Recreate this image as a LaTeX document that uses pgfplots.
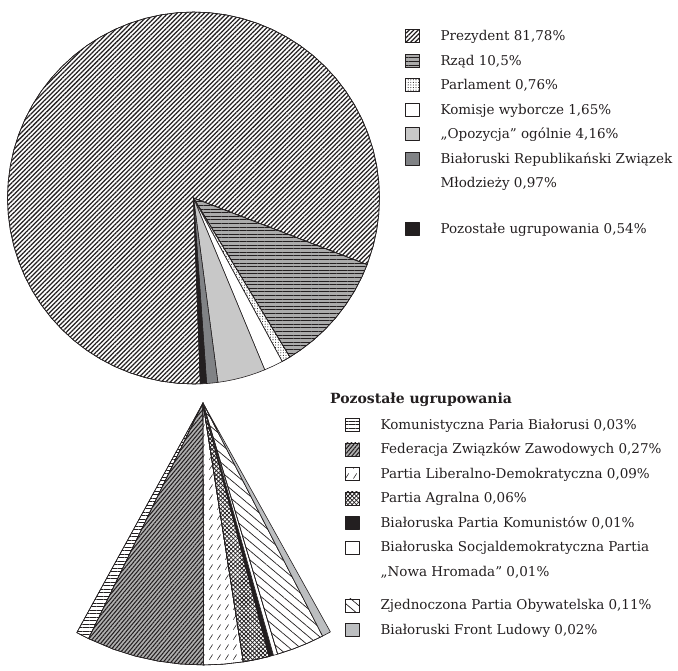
\documentclass[border=0pt]{standalone}
\usepackage{fontspec}
\setmainfont{DejaVu Serif}
\usepackage{pgfplots}
\pgfplotsset{compat=1.18}
\usetikzlibrary{patterns,patterns.meta}
\definecolor{ink}{HTML}{231F20}
\definecolor{opgray}{HTML}{C8C8C8}
\definecolor{midgray}{HTML}{808285}
\definecolor{fedgray}{HTML}{B0B0B0}
\definecolor{frontgray}{HTML}{BCBEC0}
\tikzdeclarepattern{
  name=dashesNE,
  type=uncolored,
  bounding box={(0pt,0pt) and (8pt,10pt)},
  tile size={(8pt,10pt)},
  code={\draw[line width=0.6pt] (1.5pt,1.5pt) -- (5pt,7pt);}
}
\pgfplotsset{
  slice/.style={draw=ink, line width=0.6pt, line join=round},
  boxlegend/.style={
    legend image code/.code={\draw[##1, draw=ink, line width=0.6pt] (0pt,-2pt) rectangle (14pt,11pt);},
  },
  legstyle/.style={legend style={draw=none, fill=none, inner sep=0pt, outer sep=0pt,
    row sep=7pt, column sep=0pt, font=\fontsize{13.5}{16}\selectfont, text=ink,
    /tikz/every odd column/.append style={column sep=19pt},
    cells={anchor=base west, inner sep=0pt, text height=12pt, text depth=4pt}}},
}
\begin{document}
\begin{tikzpicture}
\path (0pt,0pt) rectangle (678pt,670pt);
% ---------------- main pie ----------------
\begin{axis}[at={(0pt,0pt)}, anchor=south west, width=678pt, height=670pt,
  scale only axis, xmin=-193.5, xmax=484.5, ymin=-472, ymax=198,
  hide axis, clip=false, data cs=polar, boxlegend, legstyle,
  legend style={at={(0.5973,0.9604)}, anchor=north west}]
% Prezydent 81,78
\addplot[slice, fill=white, postaction={pattern={Lines[angle=45,distance=3.2pt,line width=1.25pt]}, pattern color=ink}]
 coordinates {(0,0) (-21,186) (-15,186) (-10,186) (-5,186) (0,186) (5,186) (10,186) (15,186) (20,186)
 (25,186) (30,186) (35,186) (40,186) (45,186) (50,186) (55,186) (60,186) (65,186) (70,186)
 (75,186) (80,186) (85,186) (90,186) (95,186) (100,186) (105,186) (110,186) (115,186) (120,186)
 (125,186) (130,186) (135,186) (140,186) (145,186) (150,186) (155,186) (160,186) (165,186) (170,186)
 (175,186) (180,186) (185,186) (190,186) (195,186) (200,186) (205,186) (210,186) (215,186) (220,186)
 (225,186) (230,186) (235,186) (240,186) (245,186) (250,186) (255,186) (260,186) (265,186) (270,186)
 (272.11,186)} -- cycle;
\addlegendentry{Prezydent 81,78\%}
% Rzad 10,5
\addplot[slice, fill=black!33, postaction={pattern={Lines[angle=0,distance=3.6pt,line width=1pt]}, pattern color=ink}]
 coordinates {(0,0) (-21,186) (-25,186) (-30,186) (-35,186) (-40,186) (-45,186) (-50,186) (-55,186) (-58.8,186)} -- cycle;
\addlegendentry{Rząd 10,5\%}
% Parlament 0,76
\addplot[slice, fill=white, postaction={pattern={Dots[distance=2.6pt,radius=0.55pt]}, pattern color=ink}]
 coordinates {(0,0) (-58.8,186) (-60.2,186) (-61.54,186)} -- cycle;
\addlegendentry{Parlament 0,76\%}
% Komisje 1,65
\addplot[slice, fill=white]
 coordinates {(0,0) (-61.54,186) (-64.5,186) (-67.48,186)} -- cycle;
\addlegendentry{Komisje wyborcze 1,65\%}
% Opozycja 4,16
\addplot[slice, fill=opgray]
 coordinates {(0,0) (-67.48,186) (-70,186) (-72.5,186) (-75,186) (-77.5,186) (-80,186) (-82.46,186)} -- cycle;
\addlegendentry{„Opozycja" ogólnie 4,16\%}
% BRZM 0,97
\addplot[slice, fill=midgray]
 coordinates {(0,0) (-82.46,186) (-84.2,186) (-85.95,186)} -- cycle;
\addlegendentry{Białoruski Republikański Związek}
\addlegendimage{empty legend}
\addlegendentry{Młodzieży 0,97\%}
% Pozostale 0,54
\addplot[slice, fill=ink]
 coordinates {(0,0) (-85.95,186) (-87.89,186)} -- cycle;
\addlegendentry[text height=33pt]{Pozostałe ugrupowania 0,54\%}
\end{axis}
% ---------------- cone ----------------
\begin{axis}[at={(0pt,0pt)}, anchor=south west, width=678pt, height=670pt,
  scale only axis, xmin=-203, xmax=475, ymin=-267, ymax=403,
  hide axis, clip=false, data cs=polar, boxlegend, legstyle,
  legend style={at={(0.5088,0.3799)}, anchor=north west}]
\addplot[slice, fill=white, postaction={pattern={Lines[angle=0,distance=3.5pt,line width=1pt]}, pattern color=ink}]
 coordinates {(0,0) (-118.8,262) (-117.3,262) (-115.9,262)} -- cycle;
\addlegendentry{Komunistyczna Paria Białorusi 0,03\%}
\addplot[slice, fill=fedgray, postaction={pattern={Lines[angle=50,distance=3pt,line width=1.05pt]}, pattern color=ink}]
 coordinates {(0,0) (-115.9,262) (-110,262) (-105,262) (-100,262) (-95,262) (-89.85,262)} -- cycle;
\addlegendentry{Federacja Związków Zawodowych 0,27\%}
\addplot[slice, fill=white, postaction={pattern=dashesNE, pattern color=ink}]
 coordinates {(0,0) (-89.85,262) (-85.5,262) (-81.16,262)} -- cycle;
\addlegendentry{Partia Liberalno-Demokratyczna 0,09\%}
\addplot[slice, fill=white, postaction={pattern={Lines[angle=45,distance=3pt,line width=0.8pt]}, pattern color=ink},
  postaction={pattern={Lines[angle=-45,distance=3pt,line width=0.8pt]}, pattern color=ink}]
 coordinates {(0,0) (-81.16,262) (-78.3,262) (-75.37,262)} -- cycle;
\addlegendentry{Partia Agralna 0,06\%}
\addplot[slice, fill=ink]
 coordinates {(0,0) (-75.37,262) (-74.4,262)} -- cycle;
\addlegendentry{Białoruska Partia Komunistów 0,01\%}
\addplot[slice, fill=white]
 coordinates {(0,0) (-74.4,262) (-73.44,262)} -- cycle;
\addlegendentry{Białoruska Socjaldemokratyczna Partia}
\addlegendimage{empty legend}
\addlegendentry{„Nowa Hromada” 0,01\%}
\addplot[slice, fill=white, postaction={pattern={Lines[angle=-40,distance=7pt,line width=0.7pt]}, pattern color=ink}]
 coordinates {(0,0) (-73.44,262) (-70,262) (-66.5,262) (-62.83,262)} -- cycle;
\addlegendentry[text height=21pt]{Zjednoczona Partia Obywatelska 0,11\%}
\addplot[slice, fill=frontgray]
 coordinates {(0,0) (-62.83,262) (-60.9,262)} -- cycle;
\addlegendentry{Białoruski Front Ludowy 0,02\%}
\node[anchor=base west, font=\bfseries\fontsize{14}{16}\selectfont, text=ink, inner sep=0pt]
  at (axis cs:127,-0.5) {Pozostałe ugrupowania};
\end{axis}
\end{tikzpicture}
\end{document}
